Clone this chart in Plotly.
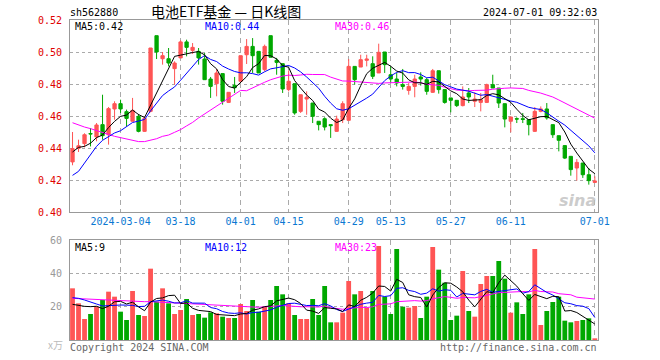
import pandas as pd
import plotly.graph_objects as go

# ---------------- data ----------------
dates = [
    "2024-02-21", "2024-02-22", "2024-02-23", "2024-02-26", "2024-02-27", "2024-02-28", "2024-02-29",
    "2024-03-01", "2024-03-04", "2024-03-05", "2024-03-06", "2024-03-07", "2024-03-08",
    "2024-03-11", "2024-03-12", "2024-03-13", "2024-03-14", "2024-03-15",
    "2024-03-18", "2024-03-19", "2024-03-20", "2024-03-21", "2024-03-22",
    "2024-03-25", "2024-03-26", "2024-03-27", "2024-03-28", "2024-03-29",
    "2024-04-01", "2024-04-02", "2024-04-03",
    "2024-04-08", "2024-04-09", "2024-04-10", "2024-04-11", "2024-04-12",
    "2024-04-15", "2024-04-16", "2024-04-17", "2024-04-18", "2024-04-19",
    "2024-04-22", "2024-04-23", "2024-04-24", "2024-04-25", "2024-04-26",
    "2024-04-29", "2024-04-30",
    "2024-05-06", "2024-05-07", "2024-05-08", "2024-05-09", "2024-05-10",
    "2024-05-13", "2024-05-14", "2024-05-15", "2024-05-16", "2024-05-17",
    "2024-05-20", "2024-05-21", "2024-05-22", "2024-05-23", "2024-05-24",
    "2024-05-27", "2024-05-28", "2024-05-29", "2024-05-30", "2024-05-31",
    "2024-06-03", "2024-06-04", "2024-06-05", "2024-06-06", "2024-06-07",
    "2024-06-11", "2024-06-12", "2024-06-13", "2024-06-14",
    "2024-06-17", "2024-06-18", "2024-06-19", "2024-06-20", "2024-06-21",
    "2024-06-24", "2024-06-25", "2024-06-26", "2024-06-27", "2024-06-28",
    "2024-07-01",
]

open_ = [0.4313, 0.4398, 0.4427, 0.4490, 0.4469, 0.4546, 0.4483, 0.4644, 0.4677, 0.4627,
         0.4567, 0.4598, 0.4504, 0.4629, 0.5102, 0.4958, 0.4958, 0.4896, 0.4963, 0.5063,
         0.5010, 0.5004, 0.4956, 0.4831, 0.4802, 0.4865, 0.4685, 0.4792, 0.4817, 0.4983,
         0.5035, 0.5004, 0.4890, 0.5102, 0.4948, 0.4927, 0.4765, 0.4802, 0.4629, 0.4706,
         0.4681, 0.4567, 0.4583, 0.4546, 0.4504, 0.4577, 0.4573, 0.4910, 0.4906, 0.4948,
         0.4927, 0.4869, 0.5000, 0.4858, 0.4831, 0.4796, 0.4760, 0.4785, 0.4844, 0.4827,
         0.4748, 0.4883, 0.4765, 0.4713, 0.4698, 0.4665, 0.4744, 0.4692, 0.4685, 0.4685,
         0.4796, 0.4775, 0.4677, 0.4567, 0.4583, 0.4583, 0.4577, 0.4504, 0.4629, 0.4644,
         0.4546, 0.4477, 0.4415, 0.4348, 0.4275, 0.4306, 0.4233, 0.4185]
high = [0.4500, 0.4452, 0.4492, 0.4525, 0.4556, 0.4733, 0.4656, 0.4692, 0.4702, 0.4640,
        0.4713, 0.4613, 0.4598, 0.5025, 0.5102, 0.5000, 0.5025, 0.4942, 0.5073, 0.5077,
        0.5056, 0.5025, 0.4994, 0.4844, 0.4894, 0.4865, 0.4748, 0.4844, 0.4977, 0.5081,
        0.5087, 0.5004, 0.5046, 0.5102, 0.4963, 0.4927, 0.4885, 0.4802, 0.4733, 0.4754,
        0.4681, 0.4567, 0.4592, 0.4546, 0.4602, 0.4692, 0.4956, 0.4910, 0.4983, 0.4983,
        0.4973, 0.5052, 0.5000, 0.4910, 0.4869, 0.4894, 0.4806, 0.4858, 0.4873, 0.4838,
        0.4894, 0.4883, 0.4765, 0.4713, 0.4698, 0.4785, 0.4775, 0.4748, 0.4744, 0.4802,
        0.4858, 0.4775, 0.4677, 0.4594, 0.4592, 0.4619, 0.4577, 0.4656, 0.4660, 0.4681,
        0.4546, 0.4477, 0.4415, 0.4348, 0.4331, 0.4306, 0.4275, 0.4223]
low = [0.4292, 0.4375, 0.4404, 0.4410, 0.4442, 0.4452, 0.4421, 0.4577, 0.4619, 0.4535,
       0.4567, 0.4498, 0.4500, 0.4623, 0.4956, 0.4921, 0.4910, 0.4796, 0.4963, 0.4973,
       0.4988, 0.4921, 0.4827, 0.4713, 0.4723, 0.4671, 0.4681, 0.4744, 0.4817, 0.4925,
       0.4869, 0.4869, 0.4880, 0.4967, 0.4858, 0.4744, 0.4754, 0.4608, 0.4619, 0.4608,
       0.4556, 0.4510, 0.4510, 0.4463, 0.4500, 0.4556, 0.4573, 0.4796, 0.4906, 0.4910,
       0.4831, 0.4869, 0.4869, 0.4806, 0.4785, 0.4765, 0.4733, 0.4717, 0.4790, 0.4733,
       0.4744, 0.4740, 0.4677, 0.4623, 0.4656, 0.4660, 0.4681, 0.4656, 0.4629, 0.4681,
       0.4775, 0.4650, 0.4529, 0.4498, 0.4556, 0.4556, 0.4479, 0.4500, 0.4623, 0.4577,
       0.4463, 0.4379, 0.4331, 0.4227, 0.4196, 0.4213, 0.4171, 0.4181]
close = [0.4396, 0.4414, 0.4483, 0.4488, 0.4544, 0.4477, 0.4646, 0.4677, 0.4644, 0.4585,
         0.4635, 0.4504, 0.4585, 0.5025, 0.5000, 0.4977, 0.4931, 0.4931, 0.5063, 0.5029,
         0.5029, 0.4963, 0.4827, 0.4785, 0.4869, 0.4692, 0.4748, 0.4777, 0.4977, 0.5035,
         0.4977, 0.4869, 0.5035, 0.4967, 0.4935, 0.4769, 0.4817, 0.4619, 0.4733, 0.4717,
         0.4598, 0.4546, 0.4531, 0.4540, 0.4581, 0.4677, 0.4910, 0.4827, 0.4952, 0.4956,
         0.4848, 0.4998, 0.4921, 0.4831, 0.4806, 0.4785, 0.4785, 0.4831, 0.4831, 0.4754,
         0.4883, 0.4765, 0.4685, 0.4698, 0.4665, 0.4719, 0.4719, 0.4706, 0.4702, 0.4796,
         0.4775, 0.4681, 0.4581, 0.4594, 0.4581, 0.4579, 0.4546, 0.4629, 0.4644, 0.4588,
         0.4483, 0.4448, 0.4337, 0.4265, 0.4310, 0.4233, 0.4196, 0.4194]

volume = [31, 22, 12.6, 15.6, 20, 24, 29, 26, 17, 12,
          29.4, 15, 14.4, 42.8, 23, 31, 22, 15.6, 18, 24.6,
          15, 15.6, 13.4, 16.6, 16, 14, 13.2, 13.2, 21.6, 17.4,
          24, 17, 20, 24, 32.4, 27.4, 22, 15, 12.6, 12.6,
          24.6, 15, 32.4, 10.6, 10.6, 16.4, 35.4, 27.4, 29.4, 19.4,
          29.4, 56.4, 26, 15.6, 54.6, 20, 19.4, 20.4, 13.2, 26,
          55.8, 42.2, 34.4, 12, 14.6, 41.4, 17.4, 14, 33.6, 38.4,
          38.4, 47.4, 36.8, 16.4, 22.6, 15.6, 27.4, 54.6, 9, 17.4,
          22.8, 26, 11.6, 10.6, 11.4, 12, 13, 1]

# moving-average values at the start of the window (history before the first candle)
price_ma5_head = [0.4375, 0.4404, 0.4410, 0.4430]
price_ma10_head = [0.4229, 0.4254, 0.4306, 0.4358, 0.4410, 0.4448, 0.4473, 0.4494, 0.4508]
price_ma30_head = [0.4558, 0.4544, 0.4531, 0.4521, 0.4508, 0.4494, 0.4485, 0.4473, 0.4465, 0.4458,
                   0.4448, 0.4440, 0.4440, 0.4448, 0.4458, 0.4473, 0.4481, 0.4498, 0.4515, 0.4538,
                   0.4560, 0.4588, 0.4612, 0.4636, 0.4660, 0.4685, 0.4710, 0.4735, 0.4760]
vol_ma5_head = [21.4, 20.6, 20.2, 20.0]
vol_ma10_head = [25.4, 25.0, 24.0, 23.0, 21.6, 20.4, 20.6, 21.0, 21.0]
vol_ma30_head = [25.0, 24.8, 24.6, 24.4, 24.4, 24.0, 23.8, 23.8, 23.6, 23.4,
                 23.2, 23.0, 23.0, 23.0, 22.8, 22.6, 22.4, 22.2, 22.0, 21.8,
                 21.8, 21.6, 21.4, 21.2, 21.0, 20.8, 20.6, 20.4, 20.2]

tick_dates = ["2024-03-04", "2024-03-18", "2024-04-01", "2024-04-15", "2024-04-29",
              "2024-05-13", "2024-05-27", "2024-06-11", "2024-07-01"]
tick_labels = ["2024-03-04", "03-18", "04-01", "04-15", "04-29", "05-13", "05-27", "06-11", "07-01"]

price_ticks = [0.40, 0.42, 0.44, 0.46, 0.48, 0.50, 0.52]
vol_ticks = [20, 40, 60]

# ---------------- styles ----------------
RED = "#FF5555"
GREEN = "#00A800"
MONO = "DejaVu Sans Mono, Liberation Mono, monospace"
CJK = "Noto Sans CJK SC, sans-serif"
GRID = "#AAAAAA"
BORDER = "#999999"
FS = 10


def with_head(values, n, head):
    s = pd.Series(values, dtype=float).rolling(n).mean().tolist()
    return list(head) + s[len(head):]


p_ma5 = with_head(close, 5, price_ma5_head)
p_ma10 = with_head(close, 10, price_ma10_head)
p_ma30 = with_head(close, 30, price_ma30_head)
v_ma5 = with_head(volume, 5, vol_ma5_head)
v_ma10 = with_head(volume, 10, vol_ma10_head)
v_ma30 = with_head(volume, 30, vol_ma30_head)

bar_colors = [RED if c > o else GREEN for o, c in zip(open_, close)]

fig = go.Figure()

fig.add_trace(go.Candlestick(
    x=dates, open=open_, high=high, low=low, close=close,
    increasing=dict(line=dict(color=RED, width=1), fillcolor=RED),
    decreasing=dict(line=dict(color=GREEN, width=1), fillcolor=GREEN),
    whiskerwidth=0, hoverinfo="skip", xaxis="x", yaxis="y", showlegend=False,
))
for vals, col in [(p_ma30, "#FF00FF"), (p_ma10, "#0000FF"), (p_ma5, "#000000")]:
    fig.add_trace(go.Scatter(x=dates, y=vals, mode="lines", line=dict(color=col, width=1),
                             xaxis="x", yaxis="y", showlegend=False, hoverinfo="skip"))

fig.add_trace(go.Bar(x=dates, y=volume, marker=dict(color=bar_colors, line=dict(width=0)),
                     width=0.8, xaxis="x2", yaxis="y2", showlegend=False, hoverinfo="skip"))
for vals, col in [(v_ma30, "#FF00FF"), (v_ma10, "#0000FF"), (v_ma5, "#000000")]:
    fig.add_trace(go.Scatter(x=dates, y=vals, mode="lines", line=dict(color=col, width=1),
                             xaxis="x2", yaxis="y2", showlegend=False, hoverinfo="skip"))

L, R, T, B = 70, 62, 20, 20
W, H = 660, 360
PW, PH = W - L - R, H - T - B


def px(x):
    return (x - L) / PW


def py(y):
    return (H - B - y) / PH


xcommon = dict(
    type="category", categoryorder="array", categoryarray=dates,
    range=[-0.42, 87.53], tickvals=tick_dates,
    showgrid=True, gridcolor=GRID, griddash="5px,4px", gridwidth=1,
    showline=True, mirror=True, linecolor=BORDER, linewidth=1,
    ticks="", zeroline=False, fixedrange=True,
)

fig.update_layout(
    width=W, height=H,
    margin=dict(l=L, r=R, t=T, b=B, pad=0),
    paper_bgcolor="white", plot_bgcolor="white",
    boxgap=0.22,
    bargap=0.2,
    showlegend=False,
    xaxis=dict(**xcommon, domain=[0, 1], anchor="y", ticktext=tick_labels,
               showticklabels=True, tickfont=dict(family=MONO, size=FS, color="#0A78D2"),
               rangeslider=dict(visible=False)),
    xaxis2=dict(**xcommon, domain=[0, 1], anchor="y2", ticktext=tick_labels,
                showticklabels=False),
    yaxis=dict(domain=[py(212), 1], range=[0.40, 0.52], tickvals=price_ticks,
               ticktext=["%.2f" % v for v in price_ticks],
               tickfont=dict(family=MONO, size=FS, color="#E00000"),
               showgrid=True, gridcolor=GRID, griddash="dot", gridwidth=1,
               showline=True, mirror=True, linecolor=BORDER, linewidth=1,
               ticks="", ticklabelstandoff=5, zeroline=False, fixedrange=True),
    yaxis2=dict(domain=[0, py(240)], range=[0, 60], tickvals=vol_ticks,
                ticktext=[str(v) for v in vol_ticks],
                tickfont=dict(family=MONO, size=FS, color="#999999"),
                showgrid=True, gridcolor=GRID, griddash="dot", gridwidth=1,
                showline=True, mirror=True, linecolor=BORDER, linewidth=1,
                ticks="", ticklabelstandoff=5, zeroline=False, fixedrange=True),
)

annotations = []


def note(text, x, y, color="#000", size=FS, family=MONO, xanchor="left", yanchor="middle", **kw):
    annotations.append(dict(text=text, x=px(x), y=py(y), xref="paper", yref="paper",
                            showarrow=False, xanchor=xanchor, yanchor=yanchor, borderpad=0,
                            font=dict(family=family, size=size, color=color), **kw))


note("sh562880", 69, 12, color="#000")
note("电池ETF基金 — 日K线图", 150, 11, color="#000", size=14, family=CJK)
note("2024-07-01 09:32:03", 598, 12, color="#000", xanchor="right")

note("MA5:%.2f" % p_ma5[-1], 74, 27, color="#000")
note("MA10:%.2f" % p_ma10[-1], 204, 27, color="#0000FF")
note("MA30:%.2f" % p_ma30[-1], 334, 27, color="#FF00FF")

note("MA5:9", 74, 247, color="#000")
note("MA10:12", 204, 247, color="#0000FF")
note("MA30:23", 334, 247, color="#FF00FF")

note("x万", 64, 344, color="#BBBBBB", xanchor="right", size=10, family=CJK)
note("Copyright 2024 SINA.COM", 69, 347, color="#666666")
note("http://finance.sina.com.cn", 598, 347, color="#666666", xanchor="right")
note("<b><i>sina</i></b>", 597, 200, color="rgba(190,190,190,0.8)", xanchor="right",
     size=16, family="DejaVu Sans, sans-serif")

fig.update_layout(annotations=annotations)

fig.write_html(
    "out.html",
    config={"displayModeBar": False, "staticPlot": True},
    post_script="document.body.style.margin='0';document.body.style.overflow='hidden';",
)
